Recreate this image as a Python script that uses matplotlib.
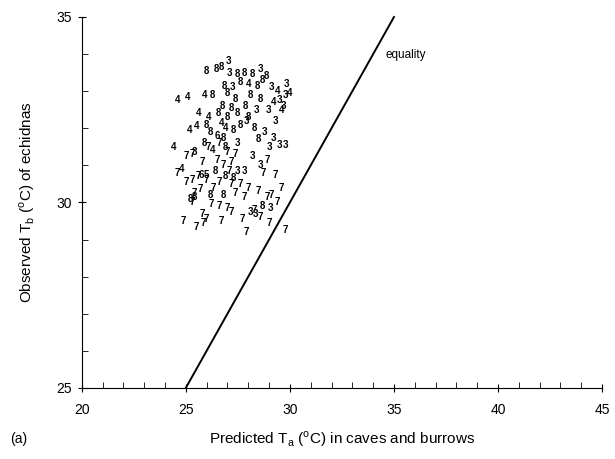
import matplotlib
matplotlib.use("Agg")
import matplotlib.pyplot as plt
from matplotlib.ticker import MultipleLocator

plt.rcParams['font.family'] = ['Liberation Sans', 'DejaVu Sans']

# data: predicted Ta (x), observed Tb (y), digit label of each echidna
pts_8 = [(26.0, 33.55), (26.45, 33.6), (26.7, 33.65), (27.5, 33.45), (27.8, 33.5),
         (28.2, 33.45), (28.85, 33.4), (27.6, 33.25), (28.45, 33.15), (28.7, 33.3),
         (26.85, 33.15), (26.3, 32.9), (27.0, 32.95), (27.4, 32.8), (28.1, 32.9),
         (28.6, 32.8), (26.75, 32.6), (27.2, 32.55), (27.85, 32.6), (26.55, 32.4),
         (26.2, 31.9), (26.0, 32.1), (27.3, 31.95), (27.6, 32.1), (28.3, 32.0),
         (28.5, 31.7), (26.8, 31.75), (25.9, 31.6), (25.4, 30.15), (25.2, 30.1),
         (26.4, 30.85), (26.9, 30.7), (27.3, 30.65), (26.8, 30.2), (28.7, 29.9),
         (26.2, 30.2), (27.0, 32.3), (27.5, 32.4), (28.0, 32.3), (26.9, 31.5)]
pts_3 = [(27.05, 33.8), (27.1, 33.5), (28.6, 33.6), (29.1, 33.1), (29.85, 33.2),
         (27.25, 33.1), (29.5, 32.75), (29.8, 32.9), (29.7, 32.6), (28.95, 32.5),
         (27.9, 32.2), (28.8, 31.9), (29.2, 31.75), (29.5, 31.55), (29.0, 31.5),
         (29.8, 31.55), (28.2, 31.25), (27.5, 31.6), (25.4, 31.35), (28.6, 31.0),
         (28.1, 29.75), (28.35, 29.7), (27.5, 30.85), (27.8, 30.85), (29.05, 29.85),
         (28.4, 32.5), (29.3, 32.2)]
pts_4 = [(24.6, 32.75), (25.1, 32.85), (25.9, 32.9), (29.4, 33.0), (30.0, 32.95),
         (29.2, 32.7), (29.6, 32.5), (26.1, 32.3), (25.6, 32.4), (24.4, 31.5),
         (25.2, 31.95), (25.5, 32.05), (26.7, 32.15), (26.3, 31.4), (26.9, 32.0),
         (24.8, 30.9), (28.0, 33.2)]
pts_7 = [(25.0, 31.25), (25.3, 31.3), (26.1, 31.5), (26.5, 31.15), (27.0, 31.35),
         (27.4, 31.3), (26.8, 31.0), (27.1, 30.85), (28.9, 31.15), (29.3, 30.75),
         (24.6, 30.8), (25.0, 30.55), (25.3, 30.6), (25.6, 30.7), (26.0, 30.6),
         (25.4, 30.25), (25.7, 30.35), (26.3, 30.4), (26.6, 30.55), (27.2, 30.5),
         (27.6, 30.5), (28.0, 30.4), (28.5, 30.3), (28.9, 30.15), (29.1, 30.2),
         (29.4, 30.0), (27.8, 30.15), (27.0, 29.85), (26.6, 29.9), (26.2, 29.95),
         (25.8, 29.7), (26.0, 29.55), (25.5, 29.35), (25.85, 29.45), (26.7, 29.5),
         (27.2, 29.75), (27.7, 29.55), (28.3, 29.8), (28.6, 29.6), (29.0, 29.45),
         (29.8, 29.25), (24.9, 29.5), (27.9, 29.2), (25.3, 30.0), (27.4, 30.25),
         (28.7, 30.8), (29.6, 30.4), (26.6, 31.6), (27.2, 31.1), (25.8, 31.1)]
pts_6 = [(25.75, 30.75), (26.5, 31.8)]
pts_5 = [(26.0, 30.75)]

equality = [25, 35]

fig = plt.figure(figsize=(6.15, 4.59), dpi=100)
ax = fig.add_axes([0.133, 0.155, 0.846, 0.808])

for lab, pts in [('8', pts_8), ('3', pts_3), ('4', pts_4), ('7', pts_7),
                 ('6', pts_6), ('5', pts_5)]:
    for x, y in pts:
        ax.text(x, y, lab, fontsize=7, fontweight='bold', ha='center',
                va='center', color='black')

ax.plot(equality, equality, color='black', lw=1.4, clip_on=False)
ax.text(34.6, 33.97, 'equality', fontsize=8.5, ha='left', va='center')

ax.set_xlim(20, 45)
ax.set_ylim(25, 35)
ax.xaxis.set_major_locator(MultipleLocator(5))
ax.xaxis.set_minor_locator(MultipleLocator(1))
ax.yaxis.set_major_locator(MultipleLocator(5))
ax.yaxis.set_minor_locator(MultipleLocator(1))
ax.tick_params(which='major', direction='inout', length=6, labelsize=10, pad=8)
ax.tick_params(axis='y', which='major', pad=4)
ax.tick_params(which='minor', direction='in', length=4)
ax.spines['top'].set_visible(False)
ax.spines['right'].set_visible(False)

ax.set_xlabel('Predicted T$_\\mathregular{a}$ ($^\\mathregular{o}$C) in caves and burrows',
              fontsize=11, labelpad=9)
ax.set_ylabel('Observed T$_\\mathregular{b}$ ($^\\mathregular{o}$C) of echidnas',
              fontsize=11, labelpad=14)
fig.text(0.016, 0.035, '(a)', fontsize=10)

fig.savefig('out.png', dpi=100)
